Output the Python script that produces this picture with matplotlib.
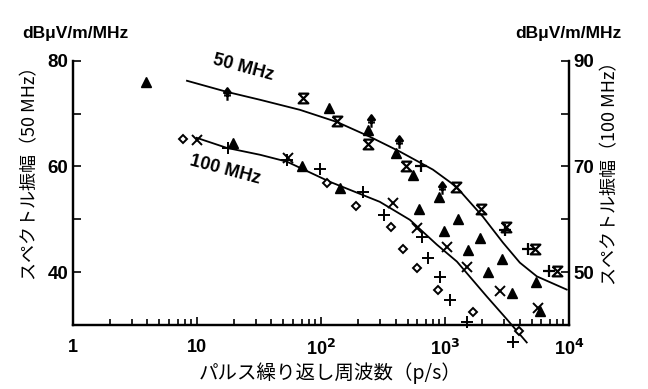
import numpy as np
import matplotlib
matplotlib.use("Agg")
import matplotlib.pyplot as plt
from matplotlib.path import Path

plt.rcParams['font.family'] = ['Liberation Sans', 'DejaVu Sans']

# --- 50 MHz (left axis, dBuV/m/MHz) ---
curve50_x = [8.34, 17.5, 32.4, 67.9, 135, 249, 434, 800, 1230, 1503, 2023, 2934, 4018, 5510, 9594]
curve50_y = [76.2, 74.1, 72.6, 70.7, 68.4, 65.6, 62.8, 59.4, 56.2, 53.9, 50.5, 45.6, 41.8, 39.2, 36.7]

tri50_x = [3.9, 116, 239, 403, 553, 893, 617, 1271, 980, 1910, 1528, 2871, 2213, 3459, 5395, 5807]
tri50_y = [76.0, 71.1, 66.9, 62.6, 58.4, 54.3, 52.0, 50.1, 47.7, 46.5, 44.1, 42.4, 40.1, 36.0, 38.2, 32.6]
hour50_x = [71.8, 135, 239, 490, 1224, 1945, 3095, 5321, 7998]
hour50_y = [73.0, 68.6, 64.3, 60.1, 56.2, 52.0, 48.6, 44.3, 40.3]
plus50_x = [640, 3038, 4677, 6902]
plus50_y = [60.1, 48.0, 44.3, 40.3]
arrow50_x = [17.5, 253, 426, 944]
arrow50_y = [73.7, 68.6, 64.7, 56.0]

# --- 100 MHz (right axis, dBuV/m/MHz) ---
curve100_x = [10.0, 17.5, 32.4, 53.3, 118, 299, 522, 862, 1250, 2175, 3155, 4570]
curve100_y = [75.4, 73.5, 72.2, 70.9, 67.1, 63.3, 59.9, 55.2, 52.0, 45.4, 41.1, 36.7]

dia100_x = [7.74, 112, 192, 367, 459, 594, 877, 1679, 3936]
dia100_y = [75.2, 66.9, 62.6, 58.6, 54.3, 50.7, 46.7, 42.4, 38.8]
x100_x = [10.0, 54.3, 381, 594, 1035, 1501, 2767, 5598]
x100_y = [75.0, 71.5, 63.0, 58.4, 54.7, 50.9, 46.5, 43.3]
plus100_x = [17.8, 53.3, 98.4, 218, 323, 652, 729, 910, 1094, 1501, 3524]
plus100_y = [73.5, 71.3, 69.6, 65.2, 60.9, 56.7, 52.6, 49.0, 44.8, 40.5, 36.7]
tri100_x = [19.6, 70.5, 143]
tri100_y = [74.5, 70.1, 66.0]

xtick_vals = [1, 10, 100, 1000, 10000]
xtick_labels = ['1', '10', '10$^{\\mathbf{2}}$', '10$^{\\mathbf{3}}$', '10$^{\\mathbf{4}}$']

# custom marker shapes
hourglass = Path([(-1, 1), (1, 1), (-1, -1), (1, -1), (-1, 1)])
arrow = Path([(-0.55, 0.25), (0.55, 0.25), (0, 1), (-0.55, 0.25),
              (0, 0.25), (0, -1), (-0.55, -0.15), (0.55, -0.15)],
             [Path.MOVETO, Path.LINETO, Path.LINETO, Path.CLOSEPOLY,
              Path.MOVETO, Path.LINETO, Path.MOVETO, Path.LINETO])

fig = plt.figure(figsize=(6.48, 3.89), dpi=100)
ax = fig.add_axes([0.1122, 0.1645, 0.7658, 0.6795])
ax2 = ax.twinx()

ax.set_xscale('log')
ax.set_xlim(1, 10000)
ax.set_ylim(30, 80)
ax2.set_ylim(40, 90)

k = dict(color='black', linestyle='none', clip_on=False)
ax.plot(curve50_x, curve50_y, color='black', lw=1.3)
ax.plot(tri50_x, tri50_y, marker='^', ms=6.5, **k)
ax.plot(hour50_x, hour50_y, marker=hourglass, ms=7, mfc='none', mew=1.6, **k)
ax.plot(plus50_x, plus50_y, marker='+', ms=8, mew=1.6, **k)
ax.plot(arrow50_x, arrow50_y, marker=arrow, ms=9, mew=1.6, **k)

ax2.plot(curve100_x, curve100_y, color='black', lw=1.3, clip_on=False)
ax2.plot(dia100_x, dia100_y, marker='D', ms=4, mfc='white', mew=1.4, **k)
ax2.plot(x100_x, x100_y, marker='x', ms=7, mew=1.4, **k)
ax2.plot(plus100_x, plus100_y, marker='+', ms=8, mew=1.4, **k)
ax2.plot(tri100_x, tri100_y, marker='^', ms=6.5, **k)

for a in (ax, ax2):
    a.spines['top'].set_visible(False)
    for s in a.spines.values():
        s.set_linewidth(1.6)

ax.set_xticks(xtick_vals)
ax.set_xticklabels(xtick_labels, fontsize=13, fontweight='bold')
ax.tick_params(axis='x', which='major', direction='in', length=6, width=1.2, pad=10)
ax.tick_params(axis='x', which='minor', direction='in', length=4, width=1.2)

ax.set_yticks([40, 50, 60, 70, 80])
ax.set_yticklabels(['40', '', '60', '', '80'], fontsize=13.5, fontweight='bold')
ax.tick_params(axis='y', direction='in', length=6, width=1.2, pad=3)
ax2.set_yticks([50, 60, 70, 80, 90])
ax2.set_yticklabels(['50', '', '70', '', '90'], fontsize=13.5, fontweight='bold')
ax2.tick_params(axis='y', direction='in', length=6, width=1.2, pad=3)

jp = ['Noto Sans CJK JP', 'DejaVu Sans']
fig.text(0.047, 0.566, 'スペクトル振幅（50 MHz）', rotation=90, ha='center', va='center',
         fontsize=13, family=jp)
fig.text(0.941, 0.566, 'スペクトル振幅（100 MHz）', rotation=90, ha='center', va='center',
         fontsize=13, family=jp)
fig.text(0.51, 0.041, 'パルス繰り返し周波数（p/s）', ha='center', va='center',
         fontsize=14, family=jp)

fig.text(0.034, 0.915, 'dBμV/m/MHz', ha='left', va='center', fontsize=12.5, fontweight='bold')
fig.text(0.795, 0.915, 'dBμV/m/MHz', ha='left', va='center', fontsize=12.5, fontweight='bold')

ax.text(0.343, 0.972, '50 MHz', transform=ax.transAxes, rotation=-15, ha='center', va='center',
        fontsize=13, fontweight='bold')
ax.text(0.307, 0.586, '100 MHz', transform=ax.transAxes, rotation=-15, ha='center', va='center',
        fontsize=13, fontweight='bold')

fig.savefig('out.png', dpi=100)
